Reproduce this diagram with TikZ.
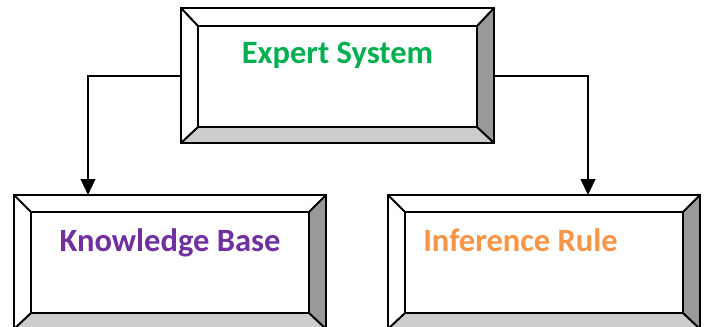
\documentclass[tikz,border=0pt]{standalone}
\usepackage{fontspec}
\setmainfont{Carlito}
\usetikzlibrary{fit,arrows.meta}

\definecolor{esgreen}{HTML}{00B050}
\definecolor{kbpurple}{HTML}{7030A0}
\definecolor{irorange}{HTML}{F79646}
\definecolor{bevdark}{HTML}{999999}
\definecolor{bevlight}{HTML}{CCCCCC}

\tikzset{
  edge/.style={line width=1.5pt, line join=miter},
  conn/.style={line width=1.5pt, -{Triangle[length=12pt,width=11pt]}},
  frame/.style={inner sep=0pt, outer sep=0pt},
  lbl/.style={font=\bfseries\fontsize{24.4pt}{29pt}\selectfont, inner sep=0pt}
}

% Bevelled box: name, outer x1 y1 x2 y2, inner x1 y1 x2 y2
\newcommand\bevelbox[9]{%
  \node[frame, fit={(#2,#3) (#4,#5)}] (#1) {};
  \node[frame, fit={(#6,#7) (#8,#9)}] (#1-in) {};
  \fill[white] (#1.north west) rectangle (#1.south east);
  \fill[bevdark] (#1.north east) -- (#1.south east) -- (#1-in.south east) -- (#1-in.north east) -- cycle;
  \fill[bevlight] (#1.south west) -- (#1.south east) -- (#1-in.south east) -- (#1-in.south west) -- cycle;
  \draw[edge] (#1.north west) rectangle (#1.south east);
  \draw[edge] (#1-in.north west) rectangle (#1-in.south east);
  \draw[edge] (#1.north west) -- (#1-in.north west);
  \draw[edge] (#1.north east) -- (#1-in.north east);
  \draw[edge] (#1.south west) -- (#1-in.south west);
  \draw[edge] (#1.south east) -- (#1-in.south east);
}

\begin{document}
\begin{tikzpicture}[x=0.75pt, y=-0.75pt]
  \useasboundingbox (0,0) rectangle (705,326);
  \clip (0,0) rectangle (705,326);

  \bevelbox{es}{181}{8}{494}{143}{198}{26}{477}{127}
  \bevelbox{kb}{14}{195}{326}{329}{31}{212}{309}{313}
  \bevelbox{ir}{388}{195}{700}{329}{405}{212}{683}{313}

  \node[lbl, text=esgreen, anchor=base] (es-t) at (337.5,63) {Expert System};
  \node[lbl, text=kbpurple, anchor=base] (kb-t) at (170,251) {Knowledge Base};
  \node[lbl, text=irorange, anchor=base west] (ir-t) at (423,251) {Inference Rule};

  % Arrow entry points on the upper edges of the lower boxes
  \coordinate (kb-in) at (88,195);
  \coordinate (ir-in) at (588,195);

  \draw[conn] (es.west) -| (kb-in);
  \draw[conn] (es.east) -| (ir-in);
\end{tikzpicture}
\end{document}
